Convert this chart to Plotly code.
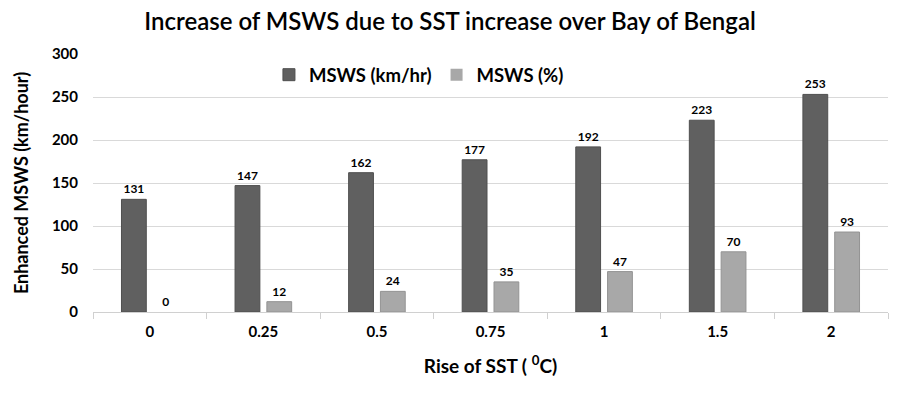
import plotly.graph_objects as go

categories = ["0", "0.25", "0.5", "0.75", "1", "1.5", "2"]
msws_kmhr = [131, 147, 162, 177, 192, 223, 253]
msws_pct = [0, 12, 24, 35, 47, 70, 93]
y_ticks = [0, 50, 100, 150, 200, 250, 300]

FONT = "Lato, Carlito, Calibri, sans-serif"

def edge_widths(vals):
    return [0 if v == 0 else 1 for v in vals]

fig = go.Figure()
fig.add_trace(go.Bar(
    x=categories, y=msws_kmhr, name="MSWS (km/hr)",
    marker=dict(color="#606060", line=dict(color="#4f4f4f", width=edge_widths(msws_kmhr))),
    text=msws_kmhr, textposition="outside",
    textfont=dict(family=FONT, size=12, color="#000000", weight="bold"),
    cliponaxis=False,
))
fig.add_trace(go.Bar(
    x=categories, y=msws_pct, name="MSWS (%)",
    marker=dict(color="#a8a8a8", line=dict(color="#939393", width=edge_widths(msws_pct))),
    text=msws_pct, textposition="outside",
    textfont=dict(family=FONT, size=12, color="#000000", weight="bold"),
    cliponaxis=False,
))

fig.update_layout(
    width=900, height=396,
    paper_bgcolor="white", plot_bgcolor="white",
    margin=dict(l=93, r=12, t=54, b=84),
    barmode="group", bargap=0.44, bargroupgap=0.22,
    font=dict(family=FONT, color="#000000"),
    title=dict(
        text="Increase of MSWS due to SST increase over Bay of Bengal",
        x=0.5, xanchor="center", y=0.945, yanchor="middle",
        font=dict(family=FONT, size=24, color="#000000", weight=600),
    ),
    legend=dict(
        orientation="h", x=0.41, xanchor="center", y=0.918, yanchor="middle",
        font=dict(family=FONT, size=18.5, color="#000000", weight="bold"),
        bgcolor="rgba(0,0,0,0)", itemwidth=30,
    ),
    xaxis=dict(
        type="category",
        showline=True, linecolor="#d0d0d0", linewidth=1,
        ticks="outside", ticklen=6, tickcolor="#d0d0d0",
        tickson="boundaries", ticklabelstandoff=6,
        tickfont=dict(family=FONT, size=15, color="#000000", weight="bold"),
        title=dict(text="Rise of SST ( <sup>0</sup>C)",
                   font=dict(family=FONT, size=19, color="#000000", weight="bold"),
                   standoff=20),
    ),
    yaxis=dict(
        range=[0, 300], tickvals=y_ticks,
        showgrid=True, gridcolor="#d9d9d9", gridwidth=1,
        zeroline=False, showline=False,
        ticks="", ticklabelstandoff=14,
        tickfont=dict(family=FONT, size=15, color="#000000", weight="bold"),
        title=dict(text="Enhanced MSWS (km/hour)",
                   font=dict(family=FONT, size=18, color="#000000", weight="bold"),
                   standoff=18),
    ),
)

fig.write_html("out.html", config={"displayModeBar": False},
               post_script="document.body.style.margin='0';document.body.style.padding='0';")
